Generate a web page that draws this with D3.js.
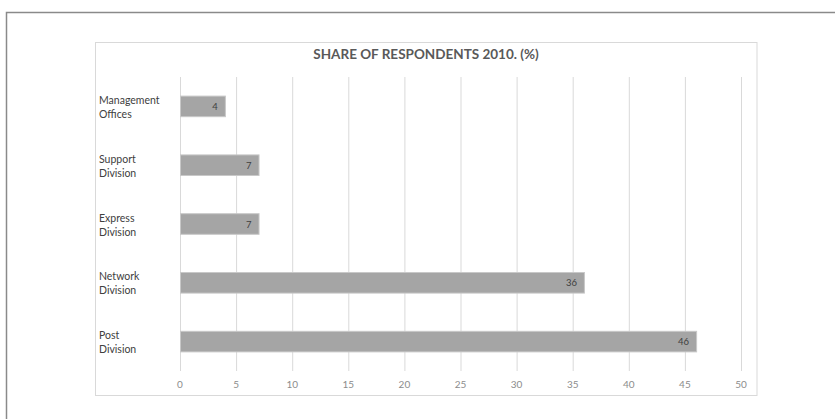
<!DOCTYPE html>
<html><head><meta charset="utf-8">
<script src="https://cdn.jsdelivr.net/npm/d3@7"></script>
<style>html,body{margin:0;padding:0;background:#fff;}svg{display:block;font-family:Lato,"Open Sans",sans-serif;}</style>
</head><body>
<svg id="c" width="835" height="419"></svg>
<script>
const categories = [["Management","Offices"],["Support","Division"],["Express","Division"],["Network","Division"],["Post","Division"]];
const values = [4, 7, 7, 36, 46];
const tickValues = [0,5,10,15,20,25,30,35,40,45,50];
const title = "SHARE OF RESPONDENTS 2010. (%)";

const svg = d3.select("#c");
// outer frame
svg.append("path").attr("d","M6.5,419 V12.5 H835").attr("fill","none").attr("stroke","#8a8a8a").attr("stroke-width",1.5);
// chart box
svg.append("rect").attr("x",95.5).attr("y",42.5).attr("width",661.5).attr("height",353).attr("fill","#fff").attr("stroke","#d9d9d9").attr("stroke-width",1);

svg.append("text").attr("x",426).attr("y",59).attr("text-anchor","middle").attr("font-size",13.5).attr("font-weight",700).attr("fill","#595959").text(title);

const x = d3.scaleLinear().domain([0,50]).range([180,741]);
const y = d3.scaleBand().domain(d3.range(categories.length)).range([77,371]).paddingInner(0.65).paddingOuter(0.325);

svg.append("g").selectAll("line").data(tickValues).join("line")
  .attr("x1",d=>x(d)+0.5).attr("x2",d=>x(d)+0.5).attr("y1",77).attr("y2",371)
  .attr("stroke","#d9d9d9").attr("stroke-width",1);

svg.append("g").selectAll("text").data(tickValues).join("text")
  .attr("x",d=>x(d)).attr("y",388).attr("text-anchor","middle").attr("font-size",10).attr("fill","#8c8c8c").text(d=>d);

svg.append("g").selectAll("rect").data(values).join("rect")
  .attr("x",x(0)+0.5).attr("y",(d,i)=>y(i)).attr("width",d=>x(d)-x(0)).attr("height",y.bandwidth())
  .attr("fill","#a5a5a5").attr("stroke","#c8c8c8").attr("stroke-width",1);

svg.append("g").selectAll("text").data(values).join("text")
  .attr("x",d=>x(d)-7).attr("y",(d,i)=>y(i)+y.bandwidth()/2+3.5).attr("text-anchor","end")
  .attr("font-size",9.5).attr("fill","#404040").text(d=>d);

const lab = svg.append("g").selectAll("text").data(categories).join("text")
  .attr("x",99).attr("y",(d,i)=>y(i)+y.bandwidth()/2-2.5).attr("font-size",10.5).attr("fill","#404040");
lab.selectAll("tspan").data(d=>d).join("tspan").attr("x",99).attr("dy",(d,j)=>j===0?0:14).text(d=>d);
</script>
</body></html>
